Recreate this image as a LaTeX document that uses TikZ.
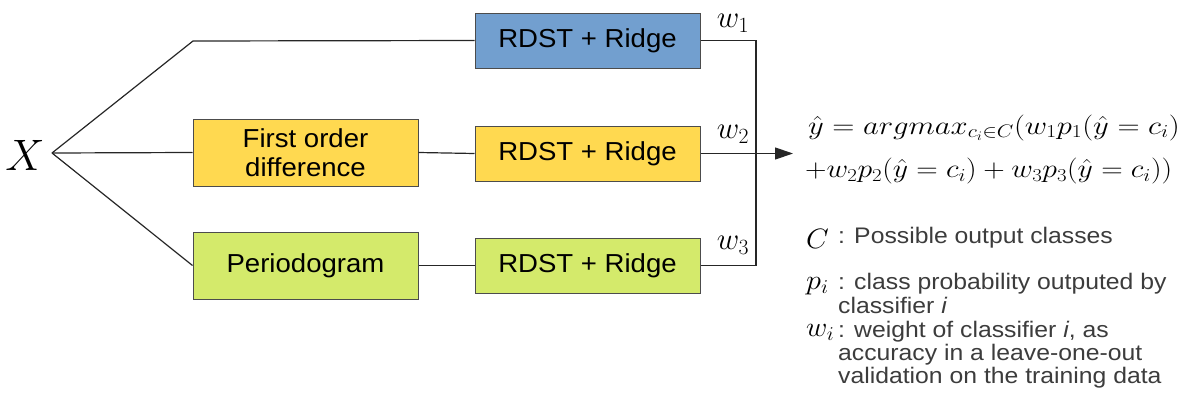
\RequirePackage{fix-cm}
\documentclass[tikz,border=0pt]{standalone}
\usepackage{graphicx}
\usepackage{fontspec}
\setsansfont{Liberation Sans}
\usetikzlibrary{arrows.meta}
\definecolor{boxblue}{HTML}{729FCF}
\definecolor{boxyellow}{HTML}{FFD950}
\definecolor{boxgreen}{HTML}{D4EA6B}
\definecolor{legendgray}{HTML}{3C3C3C}
\newcommand{\wideby}[2]{\scalebox{#1}[1]{#2}}
\begin{document}
\begin{tikzpicture}[x=1pt,y=-1pt,
  blk/.style={draw=black!70, line width=1pt, inner sep=0pt, minimum width=225pt,
    align=center, font=\sffamily\fontsize{26}{29}\selectfont},
  rdst/.style={blk, minimum height=55pt},
  prep/.style={blk, minimum height=67pt},
  wire/.style={line width=1.2pt, draw=black!85},
  wlab/.style={inner sep=0pt, font=\fontsize{31}{31}\selectfont},
  eq/.style={inner sep=0pt, anchor=base west, font=\fontsize{26}{28}\selectfont},
  sym/.style={inner sep=0pt, anchor=base west, font=\fontsize{28}{28}\selectfont},
  legend/.style={inner sep=0pt, anchor=base west, text=legendgray,
    font=\sffamily\fontsize{22.5}{23}\selectfont}]
\useasboundingbox (0,0) rectangle (1179,407);

\node[inner sep=0pt, font=\fontsize{44}{44}\selectfont] (X) at (25,155) {$X$};
\coordinate (fork) at (52,153);
\coordinate (tc) at (193,41);

\node[rdst, fill=boxblue] (r1) at (587.5,40.5) {\wideby{1.06}{RDST + Ridge}};
\node[prep, fill=boxyellow] (fod) at (305.5,152.5) {\wideby{1.06}{First order}\\\wideby{1.06}{difference}};
\node[rdst, fill=boxyellow] (r2) at (587.5,153.5) {\wideby{1.06}{RDST + Ridge}};
\node[prep, fill=boxgreen] (per) at (305.5,265.5) {\wideby{1.06}{Periodogram}};
\node[rdst, fill=boxgreen] (r3) at (587.5,265.5) {\wideby{1.06}{RDST + Ridge}};

\coordinate (j1) at (756,40.5);
\coordinate (j3) at (756,265.5);
\coordinate (out) at (793,153.5);

\draw[wire] (fork) -- (tc) -- (r1.west);
\draw[wire] (fork) -- (fod.west);
\draw[wire] (fork) -- (per.west);
\draw[wire] (fod.east) -- (r2.west);
\draw[wire] (per.east) -- (r3.west);
\draw[wire] (r1.east) -- (j1) -- (j3) -- (r3.east);
\draw[wire, -{Triangle[length=18pt,width=12pt]}] (r2.east) -- (out);

\node[wlab] (w1) at (733,23) {$w_1$};
\node[wlab] (w2) at (733,134) {$w_2$};
\node[wlab] (w3) at (733,245) {$w_3$};

\node[eq] (eq1) at (808,134) {\wideby{1.18}{$\hat{y} = argmax_{c_i\in C}(w_1p_1(\hat{y}=c_i)$}};
\node[eq] (eq2) at (805,177.5) {\wideby{1.145}{$+w_2p_2(\hat{y}=c_i)+w_3p_3(\hat{y}=c_i))$}};

\node[sym] (sC) at (806,248) {\wideby{1.05}{$C$}};
\node[legend] (tC) at (838,243) {\wideby{1.1}{: Possible output classes}};
\node[sym] (sp) at (806,289) {\wideby{1.08}{$p_i$}};
\node[legend] (tp1) at (838,289) {\wideby{1.1}{: class probability outputed by}};
\node[legend] (tp2) at (838,313) {\wideby{1.1}{classifier \textit{i}}};
\node[sym] (sw) at (806,336) {\wideby{1.05}{$w_i$}};
\node[legend] (tw1) at (838,337) {\wideby{1.1}{: weight of classifier \textit{i}, as}};
\node[legend] (tw2) at (838,360) {\wideby{1.1}{accuracy in a leave-one-out}};
\node[legend] (tw3) at (838,383) {\wideby{1.1}{validation on the training data}};
\end{tikzpicture}
\end{document}
